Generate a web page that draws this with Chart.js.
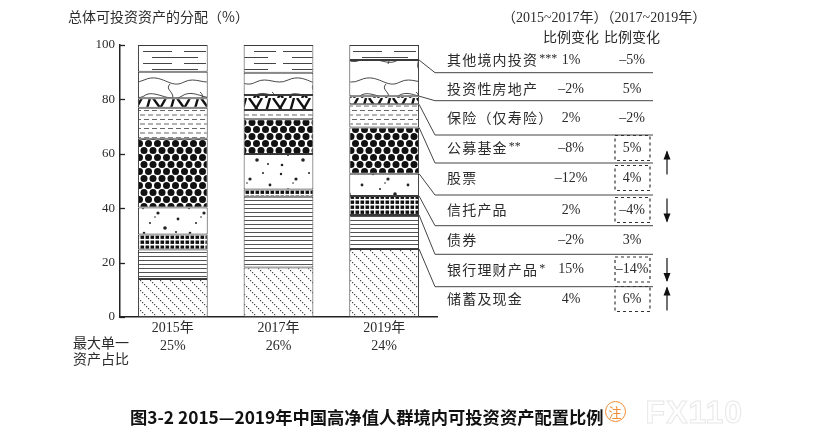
<!DOCTYPE html>
<html>
<head>
<meta charset="utf-8">
<script src="https://cdn.jsdelivr.net/npm/chart.js@4.4.1/dist/chart.umd.min.js"></script>
<style>
  html, body { margin:0; padding:0; background:#fff; }
  #wrap { position:relative; width:813px; height:428px; overflow:hidden; }
  #caption { position:absolute; left:130px; top:394px; font:bold 17.3px "Noto Sans CJK SC", sans-serif; color:#111; white-space:nowrap; line-height:26px; }
  #note { display:inline-block; width:19px; height:19px; border:1.5px solid #f08a33; border-radius:50%; color:#f08a33;
          font:normal 13px/19px "Noto Sans CJK SC", sans-serif; text-align:center; vertical-align:7px; margin-left:1px; }
  #mark { display:inline-block; margin-left:20px; font:bold 32px "Liberation Sans", sans-serif; color:#fff;
          -webkit-text-stroke:1px #e8e8e8; vertical-align:1px; letter-spacing:1px; }
</style>
</head>
<body>
<div id="wrap">
  <canvas id="c" width="813" height="428"></canvas>
  <div id="caption">图3-2 2015—2019年中国高净值人群境内可投资资产配置比例<span id="note">注</span><span id="mark">FX110</span></div>
</div>
<script>
// categories
const years    = ['2015年', '2017年', '2019年'];
const maxShare = ['25%', '26%', '24%'];
const yTicks   = [0, 20, 40, 60, 80, 100];

// assets, bottom of the stack first
const assets = ['储蓄及现金', '银行理财产品*', '债券', '信托产品', '股票', '公募基金**', '保险（仅寿险）', '投资性房地产', '其他境内投资***'];
const share2015 = [14, 10.8, 5.5, 10, 25.2, 11.4, 3.5, 9.8, 9.8];
const share2017 = [18.2, 26, 2.7, 13, 12.8, 3.4, 5.5, 8.2, 10.2];
const share2019 = [25, 12.5, 7, 8.2, 17, 8.5, 3, 13.3, 5.5];

// change columns
const change1517 = ['4%', '15%', '–2%', '2%', '–12%', '–8%', '2%', '–2%', '1%'];
const change1719 = ['6%', '–14%', '3%', '–4%', '4%', '5%', '–2%', '5%', '–5%'];
const boxed      = [true, true, false, true, true, true, false, false, false];
const trend      = ['up', 'down', '', 'down', 'up', 'up', '', '', ''];

const INK   = '#2b2b2b';
const SERIF = '"Liberation Serif", "Noto Sans CJK SC", serif';
const CJK   = '"Noto Sans CJK SC", sans-serif';

// right-hand table layout (px)
const rowY   = [60, 89, 118, 148, 178, 210, 240, 269.5, 299];   // top row first
const sepY   = [72.7, 100.7, 135, 163, 195, 225.7, 254.3, 286.7];
const SEP_L = 435, SEP_R = 653, LABEL_X = 447, COL1 = 571, COL2 = 632, BOX_L = 615, BOX_R = 650, ARROW_X = 667;

function makePattern(w, h, draw) {
  const c = document.createElement('canvas');
  c.width = w; c.height = h;
  const g = c.getContext('2d');
  g.fillStyle = '#fff';
  g.fillRect(0, 0, w, h);
  g.fillStyle = '#222';
  g.strokeStyle = '#333';
  g.lineWidth = 1;
  draw(g);
  return g.createPattern(c, 'repeat');
}

const patterns = [
  // savings: dotted diagonals
  makePattern(10, 10, g => { g.fillStyle = '#444'; for (let i = 0; i < 10; i += 2) g.fillRect(i, i, 1.2, 1.2); }),
  // bank products: horizontal lines
  makePattern(4, 4, g => { g.fillStyle = '#555'; g.fillRect(0, 0, 4, 1); }),
  // bonds: small black squares
  makePattern(5, 5, g => { g.fillStyle = '#111'; g.fillRect(0.5, 0.5, 3.6, 3.4); }),
  // trust: sparse dots
  makePattern(46, 34, g => {
    [[5,4,1.2],[20,9,1.6],[33,3,1],[40,15,1.4],[12,19,1],[27,24,1.8],[6,29,1.3],[38,28,1],[17,13,0.8]].forEach(([x,y,r]) => {
      g.beginPath(); g.arc(x, y, r, 0, Math.PI * 2); g.fill();
    });
  }),
  // stocks: big dots
  makePattern(18, 14, g => {
    g.fillStyle = '#111';
    [[4.5,3.5],[13.5,3.5],[0,10.5],[9,10.5],[18,10.5]].forEach(([x,y]) => {
      g.beginPath(); g.arc(x, y, 3.5, 0, Math.PI * 2); g.fill();
    });
  }),
  // funds: dashed lines
  makePattern(8, 9, g => { g.fillStyle = '#666'; g.fillRect(0, 2, 5, 1); g.fillRect(4, 6.5, 4, 1); g.fillRect(0, 6.5, 1, 1); }),
  // insurance: heavy strokes
  makePattern(24, 14, g => {
    g.strokeStyle = '#111'; g.lineWidth = 2.4;
    g.beginPath();
    g.moveTo(2, 14); g.lineTo(6, 0);
    g.moveTo(9, 0); g.lineTo(19, 14);
    g.moveTo(14, 14); g.lineTo(22, 0);
    g.stroke();
  }),
  // property: wavy contours
  makePattern(72, 36, g => {
    g.strokeStyle = '#333'; g.lineWidth = 0.9;
    g.beginPath();
    g.moveTo(0, 8);  g.bezierCurveTo(18, 0, 26, 18, 40, 10);  g.bezierCurveTo(52, 4, 60, 14, 72, 8);
    g.moveTo(0, 24); g.bezierCurveTo(10, 16, 26, 32, 38, 24); g.bezierCurveTo(50, 16, 62, 30, 72, 24);
    g.moveTo(26, 12); g.bezierCurveTo(20, 18, 32, 20, 28, 28);
    g.moveTo(56, 20); g.bezierCurveTo(62, 24, 54, 30, 60, 34);
    g.stroke();
  }),
  // other domestic: sparse lines
  makePattern(70, 12, g => {
    g.fillStyle = '#444';
    g.fillRect(3, 3, 29, 1); g.fillRect(44, 3, 22, 1); g.fillRect(12, 9, 46, 1);
  })
];

const overlay = {
  id: 'overlay',
  afterDraw(chart) {
    const { ctx, chartArea, scales: { y } } = chart;
    ctx.save();
    ctx.strokeStyle = '#222';
    ctx.lineWidth = 1.3;
    // inward tick marks
    yTicks.forEach(v => {
      const py = Math.round(y.getPixelForValue(v)) + 0.5;
      ctx.beginPath(); ctx.moveTo(chartArea.left, py); ctx.lineTo(chartArea.left + 5, py); ctx.stroke();
    });

    // connectors from the 2019 bar to the table rows
    const bar = chart.getDatasetMeta(0).data[2];
    const barRight = bar.x + bar.width / 2;
    ctx.strokeStyle = '#444';
    ctx.lineWidth = 1;
    let cum = 0;
    const bounds = [];
    for (let i = 0; i < share2019.length - 1; i++) { cum += share2019[i]; bounds.push(cum); }
    bounds.reverse().forEach((v, k) => {
      const py = y.getPixelForValue(v);
      ctx.beginPath();
      ctx.moveTo(barRight, py);
      ctx.lineTo(SEP_L, sepY[k]);
      ctx.lineTo(SEP_R, sepY[k]);
      ctx.stroke();
    });

    // headers
    ctx.fillStyle = INK;
    ctx.textBaseline = 'middle';
    ctx.font = '14px ' + CJK;
    ctx.textAlign = 'left';
    ctx.fillText('总体可投资资产的分配（%）', 68, 17);
    ctx.font = '14px ' + SERIF;
    ctx.fillText('（2015~2017年）（2017~2019年）', 502, 18);
    ctx.font = '14px ' + CJK;
    ctx.textAlign = 'center';
    ctx.fillText('比例变化', COL1, 37);
    ctx.fillText('比例变化', COL2, 37);
    ctx.textAlign = 'left';
    ctx.fillText('最大单一', 73, 343);
    ctx.fillText('资产占比', 73, 359);

    // rows
    const n = assets.length;
    for (let r = 0; r < n; r++) {
      const i = n - 1 - r;
      const py = rowY[r];
      const name = assets[i].replace(/\*+$/, '');
      const stars = assets[i].slice(name.length);
      ctx.textAlign = 'left';
      ctx.font = '14px ' + CJK;
      ctx.letterSpacing = '1.2px';
      ctx.fillText(name, LABEL_X, py);
      const w = ctx.measureText(name).width;
      ctx.letterSpacing = '0px';
      if (stars) {
        ctx.font = '12px ' + SERIF;
        ctx.fillText(stars, LABEL_X + w + 1, py - 1);
      }
      ctx.textAlign = 'center';
      ctx.font = '14px ' + SERIF;
      ctx.fillText(change1517[i], COL1, py);
      ctx.fillText(change1719[i], COL2, py);
      if (boxed[i]) {
        ctx.save();
        ctx.setLineDash([3, 3]);
        ctx.strokeStyle = '#333';
        ctx.lineWidth = 1.2;
        ctx.strokeRect(BOX_L, py - 12.5, BOX_R - BOX_L, 25);
        ctx.restore();
      }
    }

    // arrows, adjacent rows with the same trend share one arrow
    let r = 0;
    while (r < n) {
      const dir = trend[n - 1 - r];
      if (!dir) { r++; continue; }
      let e = r;
      while (e + 1 < n && trend[n - 2 - e] === dir) e++;
      const mid = (rowY[r] + rowY[e]) / 2;
      const top = mid - 11.5, bot = mid + 11.5;
      ctx.strokeStyle = '#111';
      ctx.fillStyle = '#111';
      ctx.lineWidth = 1.2;
      ctx.beginPath();
      ctx.moveTo(ARROW_X, top); ctx.lineTo(ARROW_X, bot); ctx.stroke();
      ctx.beginPath();
      if (dir === 'up') {
        ctx.moveTo(ARROW_X, top - 1); ctx.lineTo(ARROW_X - 3.5, top + 8); ctx.lineTo(ARROW_X + 3.5, top + 8);
      } else {
        ctx.moveTo(ARROW_X, bot + 1); ctx.lineTo(ARROW_X - 3.5, bot - 8); ctx.lineTo(ARROW_X + 3.5, bot - 8);
      }
      ctx.closePath(); ctx.fill();
      r = e + 1;
    }
    ctx.restore();
  }
};

new Chart(document.getElementById('c'), {
  type: 'bar',
  data: {
    labels: years.map((yr, i) => [yr, maxShare[i]]),
    datasets: assets.map((name, i) => ({
      label: name,
      data: [share2015[i], share2017[i], share2019[i]],
      backgroundColor: patterns[i],
      borderColor: '#3a3a3a',
      borderWidth: 1,
      borderSkipped: false,
      barPercentage: 0.66,
      categoryPercentage: 1
    }))
  },
  options: {
    responsive: false,
    animation: false,
    layout: { padding: { left: 80, right: 376, top: 45, bottom: 61 } },
    plugins: { legend: { display: false }, tooltip: { enabled: false } },
    scales: {
      x: {
        stacked: true,
        grid: { display: false, drawTicks: false },
        border: { display: true, color: '#222', width: 1.5 },
        ticks: { color: INK, font: { family: SERIF, size: 14, lineHeight: 1.25 }, padding: 3 },
        afterFit: s => { s.height = 50; }
      },
      y: {
        stacked: true,
        min: 0, max: 100,
        afterBuildTicks: s => { s.ticks = yTicks.map(v => ({ value: v })); },
        grid: { display: false, drawTicks: false },
        border: { display: true, color: '#222', width: 1.5 },
        ticks: { color: INK, font: { family: SERIF, size: 13 }, padding: 5 },
        afterFit: s => { s.width = 40; }
      }
    }
  },
  plugins: [overlay]
});
</script>
</body>
</html>
